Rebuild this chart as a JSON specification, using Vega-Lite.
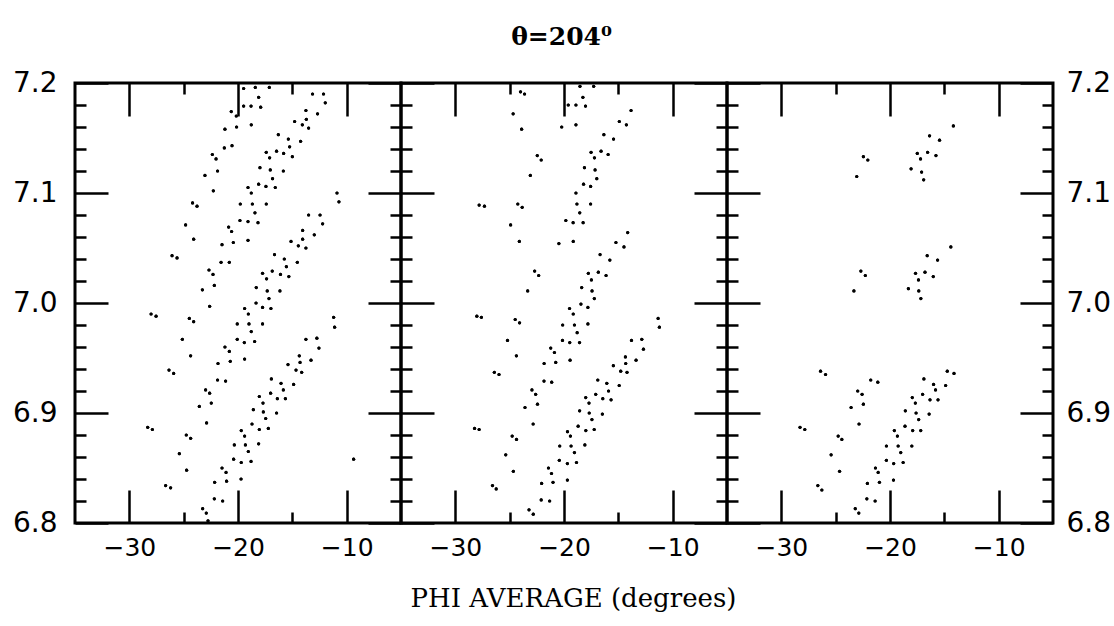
{
  "$schema": "https://vega.github.io/schema/vega-lite/v6.json",
  "background": "white",
  "padding": {"left": 10, "top": 24, "right": 2, "bottom": 2},
  "bounds": "flush",
  "title": {"text": "θ=204⁰", "font": "DejaVu Serif", "fontSize": 25, "fontWeight": "bold", "color": "black", "anchor": "middle", "offset": 18},
  "datasets": {
    "pts": [
      {"panel":1,"phi":-19.48,"r":7.195},{"panel":1,"phi":-18.41,"r":7.196},{"panel":1,"phi":-17.12,"r":7.196},{"panel":1,"phi":-18.10,"r":7.187},{"panel":1,"phi":-19.48,"r":7.179},{"panel":1,"phi":-18.80,"r":7.179},{"panel":1,"phi":-17.91,"r":7.178},{"panel":1,"phi":-20.62,"r":7.174},{"panel":1,"phi":-20.16,"r":7.170},{"panel":1,"phi":-13.14,"r":7.190},
      {"panel":1,"phi":-12.13,"r":7.190},{"panel":1,"phi":-11.97,"r":7.182},{"panel":1,"phi":-13.75,"r":7.175},{"panel":1,"phi":-12.68,"r":7.172},{"panel":1,"phi":-13.71,"r":7.167},{"panel":1,"phi":-14.79,"r":7.165},{"panel":1,"phi":-14.08,"r":7.162},{"panel":1,"phi":-13.50,"r":7.159},{"panel":1,"phi":-18.78,"r":7.162},{"panel":1,"phi":-20.13,"r":7.160},
      {"panel":1,"phi":-21.20,"r":7.158},{"panel":1,"phi":-16.29,"r":7.153},{"panel":1,"phi":-15.37,"r":7.149},{"panel":1,"phi":-14.24,"r":7.147},{"panel":1,"phi":-15.25,"r":7.142},{"panel":1,"phi":-21.26,"r":7.141},{"panel":1,"phi":-20.55,"r":7.143},{"panel":1,"phi":-22.36,"r":7.135},{"panel":1,"phi":-22.02,"r":7.131},{"panel":1,"phi":-17.40,"r":7.137},
      {"panel":1,"phi":-16.45,"r":7.138},{"panel":1,"phi":-15.80,"r":7.136},{"panel":1,"phi":-15.00,"r":7.133},{"panel":1,"phi":-17.09,"r":7.132},{"panel":1,"phi":-17.98,"r":7.123},{"panel":1,"phi":-17.03,"r":7.121},{"panel":1,"phi":-15.83,"r":7.120},{"panel":1,"phi":-21.88,"r":7.120},{"panel":1,"phi":-23.04,"r":7.116},{"panel":1,"phi":-16.82,"r":7.113},
      {"panel":1,"phi":-19.08,"r":7.105},{"panel":1,"phi":-18.78,"r":7.100},{"panel":1,"phi":-18.10,"r":7.108},{"panel":1,"phi":-17.43,"r":7.106},{"panel":1,"phi":-16.57,"r":7.105},{"panel":1,"phi":-22.27,"r":7.102},{"panel":1,"phi":-24.18,"r":7.091},{"panel":1,"phi":-23.77,"r":7.088},{"panel":1,"phi":-19.79,"r":7.090},{"panel":1,"phi":-18.68,"r":7.090},
      {"panel":1,"phi":-17.40,"r":7.090},{"panel":1,"phi":-18.44,"r":7.082},{"panel":1,"phi":-19.82,"r":7.075},{"panel":1,"phi":-19.08,"r":7.074},{"panel":1,"phi":-18.16,"r":7.073},{"panel":1,"phi":-20.86,"r":7.069},{"panel":1,"phi":-20.59,"r":7.065},{"panel":1,"phi":-21.47,"r":7.053},{"panel":1,"phi":-20.43,"r":7.055},{"panel":1,"phi":-19.08,"r":7.057},
      {"panel":1,"phi":-24.82,"r":7.071},{"panel":1,"phi":-24.08,"r":7.058},{"panel":1,"phi":-26.07,"r":7.043},{"panel":1,"phi":-25.61,"r":7.041},{"panel":1,"phi":-22.67,"r":7.030},{"panel":1,"phi":-22.30,"r":7.026},{"panel":1,"phi":-21.56,"r":7.037},{"panel":1,"phi":-20.80,"r":7.037},{"panel":1,"phi":-23.28,"r":7.012},{"panel":1,"phi":-22.18,"r":7.016},
      {"panel":1,"phi":-13.50,"r":7.080},{"panel":1,"phi":-12.45,"r":7.080},{"panel":1,"phi":-12.21,"r":7.072},{"panel":1,"phi":-14.05,"r":7.066},{"panel":1,"phi":-15.12,"r":7.056},{"panel":1,"phi":-14.05,"r":7.058},{"panel":1,"phi":-12.98,"r":7.062},{"panel":1,"phi":-14.45,"r":7.052},{"panel":1,"phi":-13.75,"r":7.050},{"panel":1,"phi":-16.64,"r":7.044},
      {"panel":1,"phi":-15.74,"r":7.040},{"panel":1,"phi":-14.54,"r":7.037},{"panel":1,"phi":-15.55,"r":7.033},{"panel":1,"phi":-17.74,"r":7.027},{"panel":1,"phi":-16.85,"r":7.029},{"panel":1,"phi":-16.09,"r":7.026},{"panel":1,"phi":-15.32,"r":7.024},{"panel":1,"phi":-17.37,"r":7.022},{"panel":1,"phi":-18.32,"r":7.014},{"panel":1,"phi":-17.31,"r":7.011},
      {"panel":1,"phi":-16.14,"r":7.011},{"panel":1,"phi":-17.15,"r":7.004},{"panel":1,"phi":-18.34,"r":7.000},{"panel":1,"phi":-10.89,"r":7.100},{"panel":1,"phi":-10.71,"r":7.092},{"panel":1,"phi":-28.00,"r":6.990},{"panel":1,"phi":-27.54,"r":6.988},{"panel":1,"phi":-24.48,"r":6.986},{"panel":1,"phi":-24.08,"r":6.983},{"panel":1,"phi":-22.61,"r":6.997},
      {"panel":1,"phi":-19.39,"r":6.995},{"panel":1,"phi":-19.05,"r":6.990},{"panel":1,"phi":-17.74,"r":6.996},{"panel":1,"phi":-16.97,"r":6.995},{"panel":1,"phi":-20.07,"r":6.981},{"panel":1,"phi":-18.99,"r":6.981},{"panel":1,"phi":-17.74,"r":6.981},{"panel":1,"phi":-18.78,"r":6.974},{"panel":1,"phi":-20.07,"r":6.967},{"panel":1,"phi":-19.42,"r":6.964},
      {"panel":1,"phi":-18.47,"r":6.965},{"panel":1,"phi":-19.39,"r":6.949},{"panel":1,"phi":-21.20,"r":6.960},{"panel":1,"phi":-20.80,"r":6.956},{"panel":1,"phi":-21.84,"r":6.945},{"panel":1,"phi":-20.71,"r":6.947},{"panel":1,"phi":-21.88,"r":6.930},{"panel":1,"phi":-21.14,"r":6.929},{"panel":1,"phi":-22.98,"r":6.921},{"panel":1,"phi":-22.61,"r":6.918},
      {"panel":1,"phi":-23.56,"r":6.906},{"panel":1,"phi":-22.46,"r":6.909},{"panel":1,"phi":-22.89,"r":6.891},{"panel":1,"phi":-25.12,"r":6.967},{"panel":1,"phi":-24.36,"r":6.952},{"panel":1,"phi":-26.35,"r":6.939},{"panel":1,"phi":-25.92,"r":6.936},{"panel":1,"phi":-28.31,"r":6.887},{"panel":1,"phi":-27.88,"r":6.885},{"panel":1,"phi":-24.76,"r":6.880},
      {"panel":1,"phi":-24.36,"r":6.877},{"panel":1,"phi":-25.40,"r":6.863},{"panel":1,"phi":-24.73,"r":6.848},{"panel":1,"phi":-26.66,"r":6.834},{"panel":1,"phi":-26.20,"r":6.832},{"panel":1,"phi":-23.25,"r":6.813},{"panel":1,"phi":-22.92,"r":6.809},{"panel":1,"phi":-22.76,"r":6.802},{"panel":1,"phi":-22.15,"r":6.837},{"panel":1,"phi":-21.47,"r":6.850},
      {"panel":1,"phi":-21.10,"r":6.846},{"panel":1,"phi":-21.05,"r":6.838},{"panel":1,"phi":-22.18,"r":6.822},{"panel":1,"phi":-21.41,"r":6.820},{"panel":1,"phi":-19.72,"r":6.840},{"panel":1,"phi":-20.40,"r":6.858},{"panel":1,"phi":-19.70,"r":6.855},{"panel":1,"phi":-18.80,"r":6.856},{"panel":1,"phi":-19.05,"r":6.865},{"panel":1,"phi":-19.32,"r":6.871},
      {"panel":1,"phi":-18.10,"r":6.872},{"panel":1,"phi":-20.34,"r":6.871},{"panel":1,"phi":-19.70,"r":6.884},{"panel":1,"phi":-19.39,"r":6.879},{"panel":1,"phi":-18.71,"r":6.890},{"panel":1,"phi":-18.04,"r":6.885},{"panel":1,"phi":-17.21,"r":6.886},{"panel":1,"phi":-17.45,"r":6.895},{"panel":1,"phi":-17.67,"r":6.901},{"panel":1,"phi":-18.59,"r":6.903},
      {"panel":1,"phi":-18.04,"r":6.915},{"panel":1,"phi":-17.70,"r":6.909},{"panel":1,"phi":-17.00,"r":6.918},{"panel":1,"phi":-16.38,"r":6.913},{"panel":1,"phi":-15.64,"r":6.913},{"panel":1,"phi":-16.45,"r":6.900},{"panel":1,"phi":-16.93,"r":6.931},{"panel":1,"phi":-16.04,"r":6.927},{"panel":1,"phi":-15.83,"r":6.921},{"panel":1,"phi":-14.88,"r":6.926},
      {"panel":1,"phi":-15.40,"r":6.944},{"panel":1,"phi":-14.66,"r":6.939},{"panel":1,"phi":-14.14,"r":6.937},{"panel":1,"phi":-14.36,"r":6.952},{"panel":1,"phi":-14.29,"r":6.946},{"panel":1,"phi":-13.28,"r":6.948},{"panel":1,"phi":-13.75,"r":6.967},{"panel":1,"phi":-12.74,"r":6.968},{"panel":1,"phi":-12.55,"r":6.959},{"panel":1,"phi":-11.20,"r":6.987},
      {"panel":1,"phi":-11.11,"r":6.978},{"panel":1,"phi":-9.36,"r":6.858},

      {"panel":2,"phi":-24.00,"r":7.192},{"panel":2,"phi":-23.63,"r":7.190},{"panel":2,"phi":-24.68,"r":7.172},{"panel":2,"phi":-23.90,"r":7.158},{"panel":2,"phi":-22.46,"r":7.134},{"panel":2,"phi":-22.10,"r":7.130},{"panel":2,"phi":-23.10,"r":7.116},{"panel":2,"phi":-27.81,"r":7.089},{"panel":2,"phi":-27.32,"r":7.088},{"panel":2,"phi":-24.25,"r":7.090},
      {"panel":2,"phi":-23.85,"r":7.087},{"panel":2,"phi":-24.91,"r":7.071},{"panel":2,"phi":-24.11,"r":7.056},{"panel":2,"phi":-22.70,"r":7.029},{"panel":2,"phi":-22.33,"r":7.025},{"panel":2,"phi":-23.34,"r":7.011},{"panel":2,"phi":-18.53,"r":7.197},{"panel":2,"phi":-17.27,"r":7.197},{"panel":2,"phi":-18.26,"r":7.187},{"panel":2,"phi":-19.61,"r":7.180},
      {"panel":2,"phi":-18.90,"r":7.180},{"panel":2,"phi":-18.02,"r":7.179},{"panel":2,"phi":-13.83,"r":7.175},{"panel":2,"phi":-20.21,"r":7.160},{"panel":2,"phi":-18.90,"r":7.162},{"panel":2,"phi":-14.91,"r":7.165},{"panel":2,"phi":-14.26,"r":7.162},{"panel":2,"phi":-16.33,"r":7.153},{"panel":2,"phi":-15.44,"r":7.149},{"panel":2,"phi":-17.51,"r":7.137},
      {"panel":2,"phi":-16.59,"r":7.138},{"panel":2,"phi":-15.94,"r":7.135},{"panel":2,"phi":-17.20,"r":7.132},{"panel":2,"phi":-18.12,"r":7.123},{"panel":2,"phi":-17.14,"r":7.121},{"panel":2,"phi":-16.98,"r":7.113},{"panel":2,"phi":-18.20,"r":7.108},{"panel":2,"phi":-17.55,"r":7.106},{"panel":2,"phi":-18.90,"r":7.100},{"panel":2,"phi":-18.81,"r":7.090},
      {"panel":2,"phi":-17.55,"r":7.090},{"panel":2,"phi":-18.55,"r":7.082},{"panel":2,"phi":-19.83,"r":7.075},{"panel":2,"phi":-19.16,"r":7.073},{"panel":2,"phi":-18.24,"r":7.073},{"panel":2,"phi":-20.47,"r":7.054},{"panel":2,"phi":-19.15,"r":7.056},{"panel":2,"phi":-14.14,"r":7.064},{"panel":2,"phi":-15.22,"r":7.055},{"panel":2,"phi":-14.48,"r":7.051},
      {"panel":2,"phi":-16.68,"r":7.044},{"panel":2,"phi":-15.78,"r":7.039},{"panel":2,"phi":-17.76,"r":7.027},{"panel":2,"phi":-16.84,"r":7.028},{"panel":2,"phi":-16.13,"r":7.025},{"panel":2,"phi":-17.48,"r":7.021},{"panel":2,"phi":-18.37,"r":7.014},{"panel":2,"phi":-17.42,"r":7.011},{"panel":2,"phi":-17.21,"r":7.004},{"panel":2,"phi":-28.02,"r":6.988},
      {"panel":2,"phi":-27.60,"r":6.987},{"panel":2,"phi":-24.49,"r":6.985},{"panel":2,"phi":-24.09,"r":6.982},{"panel":2,"phi":-25.20,"r":6.966},{"panel":2,"phi":-24.38,"r":6.952},{"panel":2,"phi":-26.41,"r":6.937},{"panel":2,"phi":-25.98,"r":6.935},{"panel":2,"phi":-28.23,"r":6.886},{"panel":2,"phi":-27.81,"r":6.885},{"panel":2,"phi":-24.77,"r":6.879},
      {"panel":2,"phi":-24.37,"r":6.876},{"panel":2,"phi":-25.36,"r":6.862},{"panel":2,"phi":-24.66,"r":6.847},{"panel":2,"phi":-26.58,"r":6.834},{"panel":2,"phi":-26.24,"r":6.831},{"panel":2,"phi":-23.22,"r":6.812},{"panel":2,"phi":-22.83,"r":6.808},{"panel":2,"phi":-19.49,"r":6.995},{"panel":2,"phi":-19.15,"r":6.990},{"panel":2,"phi":-18.44,"r":6.999},
      {"panel":2,"phi":-17.80,"r":6.996},{"panel":2,"phi":-20.12,"r":6.980},{"panel":2,"phi":-19.04,"r":6.980},{"panel":2,"phi":-17.80,"r":6.981},{"panel":2,"phi":-18.79,"r":6.973},{"panel":2,"phi":-20.14,"r":6.966},{"panel":2,"phi":-19.47,"r":6.964},{"panel":2,"phi":-18.57,"r":6.964},{"panel":2,"phi":-19.44,"r":6.948},{"panel":2,"phi":-21.22,"r":6.959},
      {"panel":2,"phi":-20.88,"r":6.955},{"panel":2,"phi":-21.83,"r":6.945},{"panel":2,"phi":-20.76,"r":6.946},{"panel":2,"phi":-21.84,"r":6.929},{"panel":2,"phi":-21.13,"r":6.928},{"panel":2,"phi":-22.95,"r":6.921},{"panel":2,"phi":-22.61,"r":6.917},{"panel":2,"phi":-23.59,"r":6.905},{"panel":2,"phi":-22.44,"r":6.908},{"panel":2,"phi":-22.84,"r":6.890},
      {"panel":2,"phi":-21.43,"r":6.850},{"panel":2,"phi":-21.15,"r":6.845},{"panel":2,"phi":-22.06,"r":6.836},{"panel":2,"phi":-21.01,"r":6.837},{"panel":2,"phi":-19.69,"r":6.839},{"panel":2,"phi":-22.10,"r":6.821},{"panel":2,"phi":-21.32,"r":6.820},{"panel":2,"phi":-20.39,"r":6.870},{"panel":2,"phi":-19.41,"r":6.879},{"panel":2,"phi":-19.35,"r":6.870},
      {"panel":2,"phi":-19.04,"r":6.864},{"panel":2,"phi":-18.85,"r":6.855},{"panel":2,"phi":-20.43,"r":6.857},{"panel":2,"phi":-19.69,"r":6.854},{"panel":2,"phi":-19.68,"r":6.883},{"panel":2,"phi":-18.70,"r":6.888},{"panel":2,"phi":-18.08,"r":6.871},{"panel":2,"phi":-17.99,"r":6.884},{"panel":2,"phi":-17.22,"r":6.885},{"panel":2,"phi":-17.68,"r":6.900},
      {"panel":2,"phi":-17.43,"r":6.894},{"panel":2,"phi":-18.56,"r":6.902},{"panel":2,"phi":-17.70,"r":6.909},{"panel":2,"phi":-18.00,"r":6.914},{"panel":2,"phi":-17.08,"r":6.917},{"panel":2,"phi":-16.43,"r":6.913},{"panel":2,"phi":-15.67,"r":6.912},{"panel":2,"phi":-16.47,"r":6.899},{"panel":2,"phi":-16.89,"r":6.930},{"panel":2,"phi":-16.06,"r":6.927},
      {"panel":2,"phi":-15.90,"r":6.920},{"panel":2,"phi":-14.92,"r":6.925},{"panel":2,"phi":-15.46,"r":6.943},{"panel":2,"phi":-14.78,"r":6.938},{"panel":2,"phi":-14.20,"r":6.937},{"panel":2,"phi":-14.35,"r":6.951},{"panel":2,"phi":-14.32,"r":6.945},{"panel":2,"phi":-13.37,"r":6.948},{"panel":2,"phi":-13.79,"r":6.966},{"panel":2,"phi":-12.84,"r":6.967},
      {"panel":2,"phi":-12.69,"r":6.958},{"panel":2,"phi":-11.34,"r":6.986},{"panel":2,"phi":-11.22,"r":6.978},

      {"panel":3,"phi":-14.17,"r":7.161},{"panel":3,"phi":-16.36,"r":7.152},{"panel":3,"phi":-15.44,"r":7.148},{"panel":3,"phi":-17.49,"r":7.136},{"panel":3,"phi":-16.54,"r":7.137},{"panel":3,"phi":-15.77,"r":7.134},{"panel":3,"phi":-17.19,"r":7.131},{"panel":3,"phi":-18.06,"r":7.122},{"panel":3,"phi":-17.09,"r":7.119},{"panel":3,"phi":-16.90,"r":7.112},
      {"panel":3,"phi":-22.45,"r":7.133},{"panel":3,"phi":-22.04,"r":7.130},{"panel":3,"phi":-23.06,"r":7.115},{"panel":3,"phi":-14.40,"r":7.051},{"panel":3,"phi":-16.58,"r":7.043},{"panel":3,"phi":-15.62,"r":7.039},{"panel":3,"phi":-17.65,"r":7.027},{"panel":3,"phi":-16.78,"r":7.028},{"panel":3,"phi":-16.02,"r":7.024},{"panel":3,"phi":-17.38,"r":7.021},
      {"panel":3,"phi":-18.31,"r":7.013},{"panel":3,"phi":-17.35,"r":7.011},{"panel":3,"phi":-17.16,"r":7.004},{"panel":3,"phi":-22.68,"r":7.029},{"panel":3,"phi":-22.27,"r":7.025},{"panel":3,"phi":-23.32,"r":7.011},{"panel":3,"phi":-26.39,"r":6.938},{"panel":3,"phi":-25.93,"r":6.935},{"panel":3,"phi":-28.28,"r":6.887},{"panel":3,"phi":-27.84,"r":6.885},
      {"panel":3,"phi":-21.77,"r":6.930},{"panel":3,"phi":-21.12,"r":6.928},{"panel":3,"phi":-22.97,"r":6.920},{"panel":3,"phi":-22.57,"r":6.917},{"panel":3,"phi":-23.58,"r":6.905},{"panel":3,"phi":-22.45,"r":6.908},{"panel":3,"phi":-22.85,"r":6.890},{"panel":3,"phi":-24.77,"r":6.879},{"panel":3,"phi":-24.43,"r":6.876},{"panel":3,"phi":-25.42,"r":6.862},
      {"panel":3,"phi":-24.64,"r":6.847},{"panel":3,"phi":-26.64,"r":6.834},{"panel":3,"phi":-26.27,"r":6.830},{"panel":3,"phi":-23.20,"r":6.813},{"panel":3,"phi":-22.87,"r":6.809},{"panel":3,"phi":-14.73,"r":6.938},{"panel":3,"phi":-14.11,"r":6.936},{"panel":3,"phi":-16.88,"r":6.931},{"panel":3,"phi":-15.99,"r":6.926},{"panel":3,"phi":-15.81,"r":6.921},
      {"panel":3,"phi":-14.88,"r":6.925},{"panel":3,"phi":-17.95,"r":6.914},{"panel":3,"phi":-17.00,"r":6.917},{"panel":3,"phi":-16.32,"r":6.912},{"panel":3,"phi":-15.58,"r":6.912},{"panel":3,"phi":-17.67,"r":6.909},{"panel":3,"phi":-18.59,"r":6.902},{"panel":3,"phi":-17.60,"r":6.900},{"panel":3,"phi":-16.40,"r":6.899},{"panel":3,"phi":-17.36,"r":6.894},
      {"panel":3,"phi":-18.62,"r":6.888},{"panel":3,"phi":-17.91,"r":6.884},{"panel":3,"phi":-17.17,"r":6.884},{"panel":3,"phi":-19.60,"r":6.884},{"panel":3,"phi":-19.32,"r":6.879},{"panel":3,"phi":-17.99,"r":6.870},{"panel":3,"phi":-20.33,"r":6.870},{"panel":3,"phi":-19.25,"r":6.870},{"panel":3,"phi":-19.01,"r":6.864},{"panel":3,"phi":-20.33,"r":6.857},
      {"panel":3,"phi":-19.66,"r":6.854},{"panel":3,"phi":-18.79,"r":6.855},{"panel":3,"phi":-21.34,"r":6.850},{"panel":3,"phi":-21.09,"r":6.846},{"panel":3,"phi":-22.08,"r":6.836},{"panel":3,"phi":-20.97,"r":6.837},{"panel":3,"phi":-19.68,"r":6.839},{"panel":3,"phi":-22.13,"r":6.822},{"panel":3,"phi":-21.37,"r":6.820}
    ]
  },
  "spacing": 0,
  "hconcat": [
    {
      "width": 326, "height": 440,
      "data": {"name": "pts"},
      "transform": [{"filter": "datum.panel == 1"}],
      "layer": [
        {
          "mark": {"type": "point", "filled": true, "size": 10, "color": "black", "opacity": 1},
          "encoding": {
            "x": {"field": "phi", "type": "quantitative", "scale": {"domain": [-35, -5], "nice": false, "zero": false},
                  "axis": {"orient": "bottom", "title": null, "values": [-30, -25, -20, -15, -10], "labelExpr": "datum.value % 10 === 0 ? datum.label : ''",
                           "tickSize": {"condition": {"test": "datum.value % 10 === 0", "value": -33}, "value": -11}}},
            "y": {"field": "r", "type": "quantitative", "scale": {"domain": [6.8, 7.2], "nice": false, "zero": false},
                  "axis": {"orient": "left", "title": null, "format": ".1f", "labelPadding": 51,
                           "values": [6.8,6.82,6.84,6.86,6.88,6.9,6.92,6.94,6.96,6.98,7.0,7.02,7.04,7.06,7.08,7.1,7.12,7.14,7.16,7.18,7.2],
                           "labelExpr": "abs(datum.value*10 - round(datum.value*10)) < 0.001 ? datum.label : ''",
                           "tickSize": {"condition": {"test": "abs(datum.value*10 - round(datum.value*10)) < 0.001", "value": -33}, "value": -11}}}
          }
        },
        {
          "mark": {"type": "point", "filled": true, "size": 10, "color": "black", "opacity": 1},
          "encoding": {
            "x": {"field": "phi", "type": "quantitative", "scale": {"domain": [-35, -5], "nice": false, "zero": false},
                  "axis": {"orient": "top", "title": null, "labels": false, "values": [-30, -25, -20, -15, -10],
                           "tickSize": {"condition": {"test": "datum.value % 10 === 0", "value": -33}, "value": -11}}},
            "y": {"field": "r", "type": "quantitative", "scale": {"domain": [6.8, 7.2], "nice": false, "zero": false},
                  "axis": {"orient": "right", "title": null, "labels": false,
                           "values": [6.8,6.82,6.84,6.86,6.88,6.9,6.92,6.94,6.96,6.98,7.0,7.02,7.04,7.06,7.08,7.1,7.12,7.14,7.16,7.18,7.2],
                           "tickSize": {"condition": {"test": "abs(datum.value*10 - round(datum.value*10)) < 0.001", "value": -33}, "value": -11}}}
          }
        }
      ],
      "resolve": {"axis": {"x": "independent", "y": "independent"}}
    },
    {
      "width": 326, "height": 440,
      "data": {"name": "pts"},
      "transform": [{"filter": "datum.panel == 2"}],
      "layer": [
        {
          "mark": {"type": "point", "filled": true, "size": 10, "color": "black", "opacity": 1},
          "encoding": {
            "x": {"field": "phi", "type": "quantitative", "scale": {"domain": [-35, -5], "nice": false, "zero": false},
                  "axis": {"orient": "bottom", "title": "PHI AVERAGE (degrees)", "titleX": 172, "values": [-30, -25, -20, -15, -10], "labelExpr": "datum.value % 10 === 0 ? datum.label : ''",
                           "tickSize": {"condition": {"test": "datum.value % 10 === 0", "value": -33}, "value": -11}}},
            "y": {"field": "r", "type": "quantitative", "scale": {"domain": [6.8, 7.2], "nice": false, "zero": false},
                  "axis": {"orient": "left", "title": null, "labels": false,
                           "values": [6.8,6.82,6.84,6.86,6.88,6.9,6.92,6.94,6.96,6.98,7.0,7.02,7.04,7.06,7.08,7.1,7.12,7.14,7.16,7.18,7.2],
                           "tickSize": {"condition": {"test": "abs(datum.value*10 - round(datum.value*10)) < 0.001", "value": -33}, "value": -11}}}
          }
        },
        {
          "mark": {"type": "point", "filled": true, "size": 10, "color": "black", "opacity": 1},
          "encoding": {
            "x": {"field": "phi", "type": "quantitative", "scale": {"domain": [-35, -5], "nice": false, "zero": false},
                  "axis": {"orient": "top", "title": null, "labels": false, "values": [-30, -25, -20, -15, -10],
                           "tickSize": {"condition": {"test": "datum.value % 10 === 0", "value": -33}, "value": -11}}},
            "y": {"field": "r", "type": "quantitative", "scale": {"domain": [6.8, 7.2], "nice": false, "zero": false},
                  "axis": {"orient": "right", "title": null, "labels": false,
                           "values": [6.8,6.82,6.84,6.86,6.88,6.9,6.92,6.94,6.96,6.98,7.0,7.02,7.04,7.06,7.08,7.1,7.12,7.14,7.16,7.18,7.2],
                           "tickSize": {"condition": {"test": "abs(datum.value*10 - round(datum.value*10)) < 0.001", "value": -33}, "value": -11}}}
          }
        }
      ],
      "resolve": {"axis": {"x": "independent", "y": "independent"}}
    },
    {
      "width": 326, "height": 440,
      "data": {"name": "pts"},
      "transform": [{"filter": "datum.panel == 3"}],
      "layer": [
        {
          "mark": {"type": "point", "filled": true, "size": 10, "color": "black", "opacity": 1},
          "encoding": {
            "x": {"field": "phi", "type": "quantitative", "scale": {"domain": [-35, -5], "nice": false, "zero": false},
                  "axis": {"orient": "bottom", "title": null, "values": [-30, -25, -20, -15, -10], "labelExpr": "datum.value % 10 === 0 ? datum.label : ''",
                           "tickSize": {"condition": {"test": "datum.value % 10 === 0", "value": -33}, "value": -11}}},
            "y": {"field": "r", "type": "quantitative", "scale": {"domain": [6.8, 7.2], "nice": false, "zero": false},
                  "axis": {"orient": "left", "title": null, "labels": false,
                           "values": [6.8,6.82,6.84,6.86,6.88,6.9,6.92,6.94,6.96,6.98,7.0,7.02,7.04,7.06,7.08,7.1,7.12,7.14,7.16,7.18,7.2],
                           "tickSize": {"condition": {"test": "abs(datum.value*10 - round(datum.value*10)) < 0.001", "value": -33}, "value": -11}}}
          }
        },
        {
          "mark": {"type": "point", "filled": true, "size": 10, "color": "black", "opacity": 1},
          "encoding": {
            "x": {"field": "phi", "type": "quantitative", "scale": {"domain": [-35, -5], "nice": false, "zero": false},
                  "axis": {"orient": "top", "title": null, "labels": false, "values": [-30, -25, -20, -15, -10],
                           "tickSize": {"condition": {"test": "datum.value % 10 === 0", "value": -33}, "value": -11}}},
            "y": {"field": "r", "type": "quantitative", "scale": {"domain": [6.8, 7.2], "nice": false, "zero": false},
                  "axis": {"orient": "right", "title": null, "format": ".1f", "labelPadding": 46,
                           "values": [6.8,6.82,6.84,6.86,6.88,6.9,6.92,6.94,6.96,6.98,7.0,7.02,7.04,7.06,7.08,7.1,7.12,7.14,7.16,7.18,7.2],
                           "labelExpr": "abs(datum.value*10 - round(datum.value*10)) < 0.001 ? datum.label : ''",
                           "tickSize": {"condition": {"test": "abs(datum.value*10 - round(datum.value*10)) < 0.001", "value": -33}, "value": -11}}}
          }
        }
      ],
      "resolve": {"axis": {"x": "independent", "y": "independent"}}
    }
  ],
  "config": {
    "view": {"stroke": "black", "strokeWidth": 3},
    "axis": {"domain": false, "grid": false, "tickColor": "black", "tickWidth": 2.5, "labelColor": "black", "labelFont": "DejaVu Sans", "labelFlush": false, "labelOverlap": false, "titleFont": "DejaVu Serif", "titleFontWeight": "normal", "titleColor": "black", "titleFontSize": 26, "titlePadding": 3},
    "axisX": {"labelFontSize": 25, "labelPadding": 45},
    "axisY": {"labelFontSize": 28}
  }
}
